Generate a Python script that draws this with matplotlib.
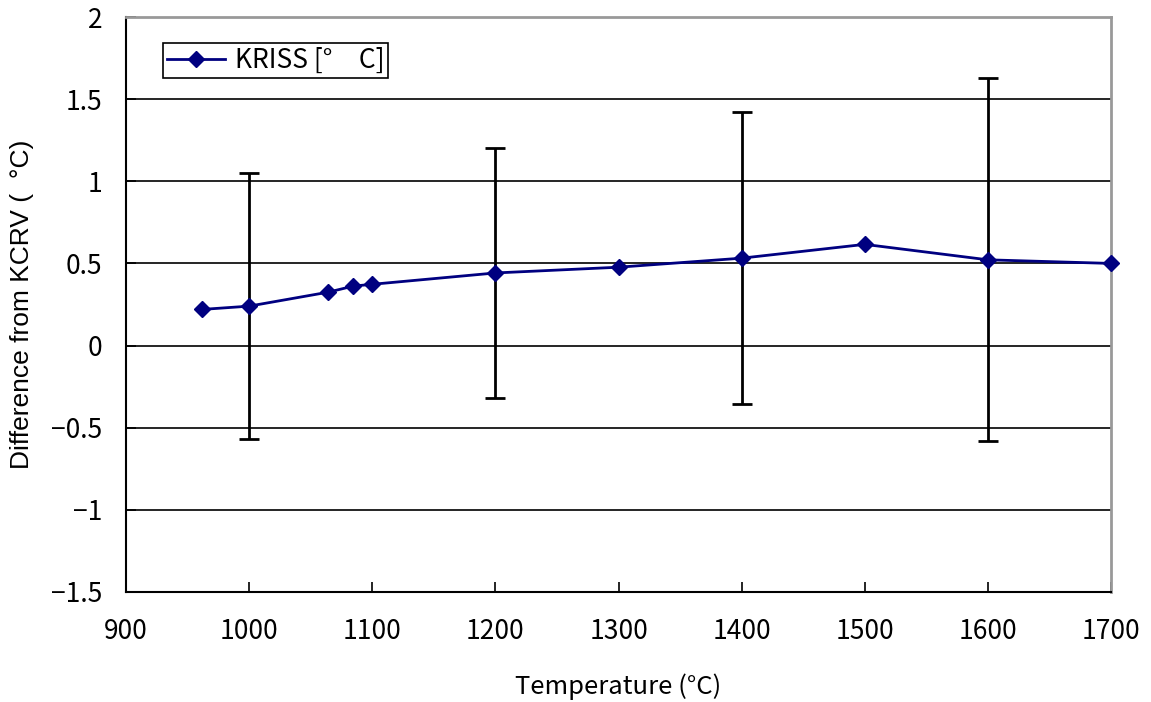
import matplotlib
matplotlib.use("Agg")
import matplotlib.pyplot as plt
from matplotlib.ticker import MultipleLocator, FuncFormatter

# Data
temperatures = [961.78, 1000, 1064.18, 1084.62, 1100, 1200, 1300, 1400, 1500, 1600, 1700]
differences = [0.22, 0.24, 0.325, 0.362, 0.373, 0.442, 0.477, 0.532, 0.616, 0.522, 0.50]
err_temperatures = [1000, 1200, 1400, 1600]
err_values = [0.24, 0.442, 0.532, 0.522]
err_uncert = [0.81, 0.76, 0.89, 1.105]
series_label = "KRISS [°\u3000C]"
x_label = "Temperature (°C)"
y_label = "Difference from KCRV (  °C)"

W, H = 1151, 702
fig = plt.figure(figsize=(W / 100, H / 100), dpi=100)
ax = fig.add_axes([126 / W, (H - 592) / H, (1111 - 126) / W, (592 - 17) / H])

gothic = ["Noto Sans CJK JP", "DejaVu Sans"]
arial = ["Liberation Sans", "DejaVu Sans"]

ax.errorbar(err_temperatures, err_values, yerr=err_uncert, fmt="none",
            ecolor="black", elinewidth=2, capsize=7, capthick=2, zorder=3)
ax.plot(temperatures, differences, color="#000080", lw=2, marker="D",
        markersize=8.5, markerfacecolor="#000080", markeredgecolor="#000080",
        label=series_label, zorder=4, clip_on=False)

ax.set_xlim(900, 1700)
ax.set_ylim(-1.5, 2)
ax.xaxis.set_major_locator(MultipleLocator(100))
ax.yaxis.set_major_locator(MultipleLocator(0.5))

def yfmt(v, pos):
    if abs(v - round(v)) < 1e-9:
        s = f"{int(round(v))}"
    else:
        s = f"{v:.1f}"
    return s.replace("-", "\u2212")

ax.yaxis.set_major_formatter(FuncFormatter(yfmt))
ax.grid(axis="y", color="black", lw=1.2, zorder=1)
ax.set_axisbelow(True)

for s in ["left", "bottom"]:
    ax.spines[s].set_color("black")
    ax.spines[s].set_linewidth(1.5)
for s in ["top", "right"]:
    ax.spines[s].set_color("#999999")
    ax.spines[s].set_linewidth(2)

ax.tick_params(axis="both", direction="in", length=7, width=1.2, color="black")
ax.tick_params(axis="x", pad=19)
ax.tick_params(axis="y", pad=17)
for lab in ax.get_xticklabels() + ax.get_yticklabels():
    lab.set_fontfamily(gothic)
    lab.set_fontsize(19)

ax.set_xlabel(x_label, fontfamily=gothic, fontsize=18.5, labelpad=20)
ax.set_ylabel(y_label, fontfamily=arial, fontsize=19, labelpad=12)

leg = ax.legend(loc="upper left", bbox_to_anchor=(0.038, 0.955),
                prop={"family": gothic, "size": 19}, frameon=True, fancybox=False,
                edgecolor="black", framealpha=1, borderpad=0.15,
                handlelength=2.2, handletextpad=0.35, borderaxespad=0)
leg.get_frame().set_linewidth(1.2)

fig.savefig("out.png", dpi=100, facecolor="white")
